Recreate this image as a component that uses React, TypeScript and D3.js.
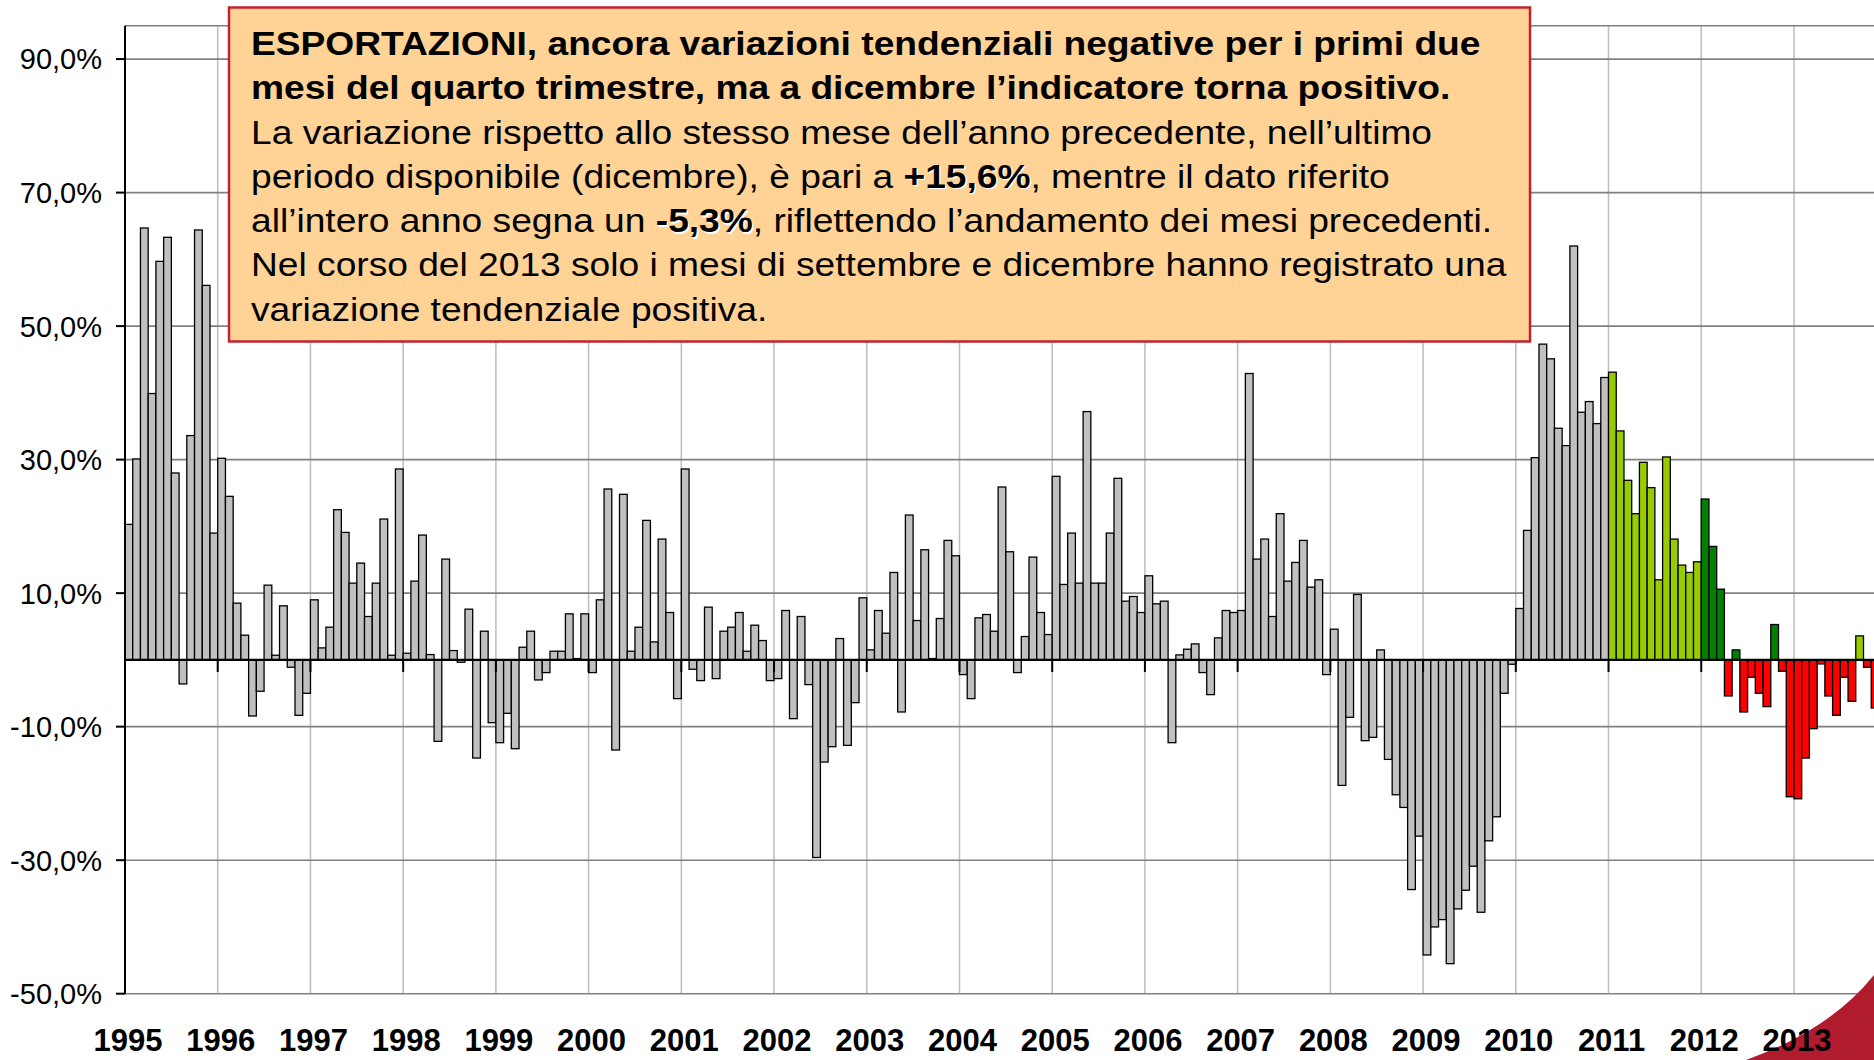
import React from "react";
import * as d3 from "d3";

const years = [1995, 1996, 1997, 1998, 1999, 2000, 2001, 2002, 2003, 2004, 2005, 2006, 2007, 2008, 2009, 2010, 2011, 2012, 2013];

const v1995 = [20.3, 30.1, 64.7, 39.9, 59.7, 63.3, 28.0, -3.6, 33.6, 64.4, 56.1, 19.0];
const v1996 = [30.2, 24.5, 8.5, 3.7, -8.4, -4.7, 11.2, 0.7, 8.1, -1.1, -8.3, -5.0];
const v1997 = [9.0, 1.8, 4.9, 22.5, 19.1, 11.5, 14.5, 6.5, 11.5, 21.1, 0.7, 28.6];
const v1998 = [1.0, 11.8, 18.7, 0.8, -12.2, 15.1, 1.4, -0.35, 7.6, -14.7, 4.3, -9.4];
const v1999 = [-12.4, -8.0, -13.3, 1.9, 4.3, -3.0, -1.9, 1.3, 1.3, 6.9, 0.2, 6.9];
const v2000 = [-1.9, 9.0, 25.6, -13.5, 24.8, 1.3, 4.9, 20.9, 2.7, 18.1, 7.1, -5.8];
const v2001 = [28.6, -1.4, -3.1, 7.9, -2.8, 4.3, 4.9, 7.1, 1.3, 5.2, 2.9, -3.1];
const v2002 = [-2.8, 7.4, -8.8, 6.5, -3.7, -29.6, -15.3, -13.0, 3.2, -12.8, -6.4, 9.3];
const v2003 = [1.5, 7.4, 4.0, 13.1, -7.8, 21.7, 5.9, 16.5, 0.2, 6.2, 17.9, 15.6];
const v2004 = [-2.2, -5.8, 6.3, 6.8, 4.3, 25.9, 16.2, -1.9, 3.5, 15.4, 7.1, 3.8];
const v2005 = [27.5, 11.3, 19.0, 11.5, 37.2, 11.5, 11.5, 19.0, 27.2, 8.8, 9.5, 7.1];
const v2006 = [12.6, 8.4, 8.8, -12.4, 0.75, 1.6, 2.4, -1.9, -5.2, 3.3, 7.4, 7.1];
const v2007 = [7.4, 42.9, 15.1, 18.1, 6.5, 21.9, 11.8, 14.6, 17.9, 10.9, 12.0, -2.2];
const v2008 = [4.6, -18.8, -8.6, 9.8, -12.1, -11.6, 1.5, -14.9, -20.2, -22.1, -34.4, -26.4];
const v2009 = [-44.2, -40.0, -38.9, -45.5, -37.3, -34.5, -30.9, -37.8, -27.1, -23.5, -5.0, -0.65];
const v2010 = [7.7, 19.4, 30.3, 47.3, 45.1, 34.7, 32.1, 62.0, 37.1, 38.7, 35.4, 42.3];
const v2011 = [43.1, 34.3, 26.9, 21.9, 29.6, 25.8, 12.0, 30.4, 18.1, 14.2, 13.1, 14.7];
const v2012 = [24.1, 17.0, 10.6, -5.4, 1.5, -7.8, -2.6, -5.0, -7.0, 5.3, -1.7, -20.5];
const v2013 = [-20.8, -14.7, -10.3, -0.6, -5.4, -8.3, -2.6, -6.2, 3.6, -1.1, -7.2, 15.6];

const yearValues = [v1995, v1996, v1997, v1998, v1999, v2000, v2001, v2002, v2003, v2004, v2005, v2006, v2007, v2008, v2009, v2010, v2011, v2012, v2013];

const yTicks = [-50, -30, -10, 10, 30, 50, 70, 90];

const boxLines = [
  "ESPORTAZIONI, ancora variazioni tendenziali negative per i primi due",
  "mesi del quarto trimestre, ma a dicembre l\u2019indicatore torna positivo.",
  "La variazione rispetto allo stesso mese dell\u2019anno precedente, nell\u2019ultimo",
  ["periodo disponibile (dicembre), \u00e8 pari a ", "+15,6%", ", mentre il dato riferito"],
  ["all\u2019intero anno segna un ", "-5,3%", ", riflettendo l\u2019andamento dei mesi precedenti."],
  "Nel corso del 2013 solo i mesi di settembre e dicembre hanno registrato una",
  "variazione tendenziale positiva.",
];

const W = 1874;
const H = 1060;
const FONT = "'Liberation Sans', Arial, Helvetica, sans-serif";

export default function App() {
  const data = yearValues.flatMap((vals, yi) =>
    vals.map((v, m) => ({ year: years[yi], m, v, key: `${years[yi]}-${m}` }))
  );

  const plotLeft = 125;
  const yearW = 92.72;
  const x = d3
    .scaleBand<string>()
    .domain(data.map((d) => d.key))
    .range([plotLeft, plotLeft + yearW * years.length])
    .paddingInner(0)
    .paddingOuter(0);
  const yearX = d3
    .scaleLinear()
    .domain([years[0], years[0] + years.length])
    .range([plotLeft, plotLeft + yearW * years.length]);
  const y = d3.scaleLinear().domain([-50, 95]).range([993.7, 25.7]);

  const color = (year: number, v: number) => {
    if (year <= 2010) return "#C0C0C0";
    if (year === 2011) return "#99CC00";
    if (v < 0) return "#FF0000";
    if (year === 2012) return "#008000";
    return "#99CC00";
  };

  const y0 = y(0);
  const sx = 1.14;
  const lineY = [55, 99.3, 143.6, 187.9, 232.2, 276.5, 320.8];

  return (
    <div style={{ position: "fixed", left: 0, top: 0 }}>
      <svg width={W} height={H} style={{ display: "block", background: "#fff" }} fontFamily={FONT}>
        {/* vertical gridlines */}
        {years.map((yr) =>
          yr === years[0] ? null : (
            <line key={`vg${yr}`} x1={yearX(yr)} x2={yearX(yr)} y1={y(95)} y2={y(-50)} stroke="#C0C0C0" strokeWidth={1.6} />
          )
        )}
        {/* horizontal gridlines */}
        {yTicks.map((t) => (
          <line key={`hg${t}`} x1={plotLeft} x2={W} y1={y(t)} y2={y(t)} stroke="#808080" strokeWidth={1.6} />
        ))}
        <line x1={plotLeft} x2={W} y1={y(95)} y2={y(95)} stroke="#808080" strokeWidth={1.6} />

        {/* bars */}
        {data.map((d) => (
          <rect
            key={d.key}
            x={x(d.key)}
            width={x.bandwidth()}
            y={y(Math.max(0, d.v))}
            height={Math.abs(y(d.v) - y0)}
            fill={color(d.year, d.v)}
            stroke="#000"
            strokeWidth={1.3}
          />
        ))}

        {/* axes */}
        <line x1={plotLeft} x2={W} y1={y0} y2={y0} stroke="#000" strokeWidth={2.2} />
        <line x1={plotLeft} x2={plotLeft} y1={y(95)} y2={y(-50)} stroke="#000" strokeWidth={2} />
        {yTicks.map((t) => (
          <line key={`yt${t}`} x1={plotLeft - 9} x2={plotLeft} y1={y(t)} y2={y(t)} stroke="#000" strokeWidth={2} />
        ))}
        {years.map((yr) => (
          <line key={`xt${yr}`} x1={yearX(yr)} x2={yearX(yr)} y1={y0} y2={y0 + 12} stroke="#000" strokeWidth={2} />
        ))}
        {yTicks.map((t) => (
          <text key={`yl${t}`} x={102} y={y(t) + 10.4} textAnchor="end" fontSize={29} fill="#000">
            {`${t.toFixed(1).replace(".", ",")}%`}
          </text>
        ))}

        {/* corner decoration */}
        <path d="M 1746 1060 Q 1830 1030 1874 975 L 1874 1060 Z" fill="#B01B2E" />

        {years.map((yr) => (
          <text key={`xl${yr}`} x={yearX(yr) + 3} y={1051} textAnchor="middle" fontSize={31} fontWeight="bold" fill="#000">
            {yr}
          </text>
        ))}

        {/* annotation box */}
        <rect x={229} y={7.5} width={1301} height={334} fill="#FFD296" stroke="#C5202F" strokeWidth={2.5} />
        <g transform={`translate(251,0) scale(${sx},1)`} fontSize={32.6} fill="#000">
          {boxLines.map((ln, i) => {
            if (typeof ln === "string") {
              return (
                <text key={`bl${i}`} x={0} y={lineY[i]} fontWeight={i < 2 ? "bold" : "normal"}>
                  {ln}
                </text>
              );
            }
            return (
              <g key={`bl${i}`}>
                <text x={1.4} y={lineY[i] + 1.4}>
                  <tspan fill="none">{ln[0]}</tspan>
                  <tspan fontWeight="bold" fill="#fff">{ln[1]}</tspan>
                </text>
                <text x={0} y={lineY[i]}>
                  <tspan>{ln[0]}</tspan>
                  <tspan fontWeight="bold">{ln[1]}</tspan>
                  <tspan>{ln[2]}</tspan>
                </text>
              </g>
            );
          })}
        </g>
      </svg>
    </div>
  );
}
